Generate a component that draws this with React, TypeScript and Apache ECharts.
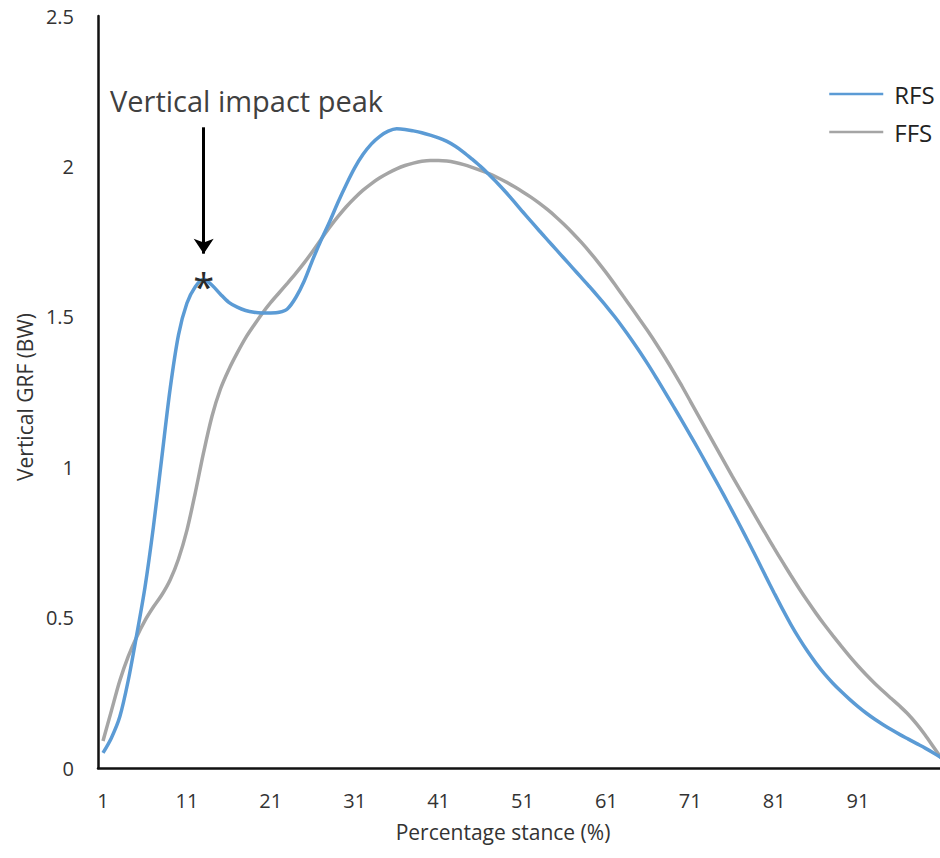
import React, { useEffect, useRef } from "react";
import * as echarts from "echarts";

const STANCE: number[] = Array.from({ length: 101 }, (_, i) => i + 1);
const X_TICKS = [1, 11, 21, 31, 41, 51, 61, 71, 81, 91];

const RFS = [
  0.05, 0.1, 0.17, 0.29, 0.44, 0.6, 0.8, 1.03, 1.26, 1.44,
  1.545, 1.6, 1.625, 1.605, 1.575, 1.548, 1.532, 1.521, 1.515, 1.513,
  1.513, 1.515, 1.527, 1.565, 1.62, 1.69, 1.755, 1.815, 1.88, 1.94,
  1.995, 2.04, 2.075, 2.1, 2.117, 2.125, 2.123, 2.118, 2.112, 2.104,
  2.095, 2.083, 2.067, 2.047, 2.024, 2.0, 1.973, 1.945, 1.915, 1.883,
  1.85, 1.818, 1.786, 1.755, 1.724, 1.693, 1.662, 1.631, 1.6, 1.568,
  1.535, 1.5, 1.463, 1.424, 1.383, 1.34, 1.295, 1.249, 1.202, 1.155,
  1.107, 1.058, 1.008, 0.958, 0.907, 0.855, 0.802, 0.748, 0.693, 0.637,
  0.582, 0.528, 0.477, 0.43, 0.387, 0.348, 0.313, 0.282, 0.254, 0.228,
  0.204, 0.182, 0.162, 0.144, 0.127, 0.111, 0.096, 0.081, 0.066, 0.05,
  0.033,
];

const FFS = [
  0.09, 0.19, 0.29, 0.37, 0.435, 0.49, 0.535, 0.575, 0.625, 0.695,
  0.79, 0.915, 1.05, 1.17, 1.26, 1.325, 1.38, 1.43, 1.472, 1.512,
  1.548, 1.58, 1.612, 1.645, 1.68, 1.718, 1.758, 1.797, 1.833, 1.866,
  1.895, 1.921, 1.943, 1.962, 1.978, 1.992, 2.003, 2.011, 2.017, 2.02,
  2.02, 2.018, 2.013, 2.006, 1.997, 1.987, 1.976, 1.963, 1.949, 1.933,
  1.916, 1.898, 1.878, 1.856, 1.832, 1.806, 1.778, 1.748, 1.716, 1.682,
  1.646, 1.608, 1.569, 1.53, 1.49, 1.45, 1.408, 1.364, 1.318, 1.27,
  1.22, 1.17, 1.12, 1.07, 1.02, 0.97, 0.922, 0.874, 0.826, 0.778,
  0.731, 0.685, 0.64, 0.596, 0.554, 0.514, 0.476, 0.44, 0.405, 0.371,
  0.339, 0.309, 0.281, 0.255, 0.23, 0.205, 0.178, 0.146, 0.11, 0.07,
  0.03,
];

const PEAK_X = 13;
const PEAK_Y = 1.625;

const FONT = "'Open Sans', 'Noto Sans', sans-serif";

export default function App() {
  const ref = useRef<HTMLDivElement>(null);

  useEffect(() => {
    document.body.style.margin = "0";
    if (!ref.current) return;
    const chart = echarts.init(ref.current, null, { renderer: "svg" });
    chart.setOption({
      animation: false,
      backgroundColor: "#ffffff",
      grid: { left: 98, right: 0, top: 16, bottom: 90, containLabel: false },
      legend: {
        orient: "vertical",
        left: 823,
        top: 77,
        itemWidth: 54,
        itemHeight: 14,
        itemGap: 14,
        lineStyle: { width: 2.5 },
        itemStyle: { opacity: 0 },
        data: ["RFS", "FFS"],
        textStyle: { fontSize: 24, fontFamily: FONT, color: "#222", padding: [0, 0, 0, 6] },
      },
      xAxis: {
        type: "value",
        min: 0.404,
        max: 100.77,
        splitLine: { show: false },
        axisTick: { show: false },
        axisLine: { show: true, lineStyle: { color: "#111", width: 2.5 } },
        axisLabel: {
          customValues: X_TICKS,
          fontSize: 20,
          fontFamily: FONT,
          color: "#333",
          margin: 22,
        },
      },
      yAxis: {
        type: "value",
        min: 0,
        max: 2.5,
        interval: 0.5,
        splitLine: { show: false },
        axisTick: { show: false },
        axisLine: { show: true, lineStyle: { color: "#111", width: 2.5 } },
        axisLabel: { fontSize: 20, fontFamily: FONT, color: "#333", margin: 24 },
      },
      series: [
        {
          name: "RFS",
          type: "line",
          data: STANCE.map((x, i) => [x, RFS[i]]),
          showSymbol: false,
          symbol: "none",
          smooth: 0.3,
          color: "#5B9BD5",
          lineStyle: { color: "#5B9BD5", width: 3.5 },
          itemStyle: { color: "#5B9BD5" },
          z: 3,
          markLine: {
            silent: true,
            symbol: ["none", "arrow"],
            symbolSize: [15, 15],
            label: { show: false },
            lineStyle: { color: "#000", width: 3, type: "solid" },
            data: [[{ coord: [PEAK_X, 2.13] }, { coord: [PEAK_X, 1.71] }]],
          },
          markPoint: {
            silent: true,
            symbol: "circle",
            symbolSize: 1,
            itemStyle: { color: "rgba(0,0,0,0)" },
            label: {
              show: true,
              formatter: "*",
              position: "inside",
              fontSize: 38,
              fontFamily: FONT,
              color: "#2a2a2a",
              offset: [0, 7],
            },
            data: [{ coord: [PEAK_X, PEAK_Y] }],
          },
        },
        {
          name: "FFS",
          type: "line",
          data: STANCE.map((x, i) => [x, FFS[i]]),
          showSymbol: false,
          symbol: "none",
          smooth: 0.3,
          color: "#A5A5A5",
          lineStyle: { color: "#A5A5A5", width: 3.5 },
          itemStyle: { color: "#A5A5A5" },
          z: 2,
        },
      ],
      graphic: [
        {
          type: "text",
          x: 110,
          y: 100,
          style: {
            text: "Vertical impact peak",
            fontSize: 29,
            fontFamily: FONT,
            fill: "#404040",
            align: "left",
            verticalAlign: "middle",
          },
        },
        {
          type: "text",
          x: 503,
          y: 832,
          style: {
            text: "Percentage stance (%)",
            fontSize: 21,
            fontFamily: FONT,
            fill: "#333",
            align: "center",
            verticalAlign: "middle",
          },
        },
        {
          type: "text",
          x: 25,
          y: 397,
          rotation: Math.PI / 2,
          style: {
            text: "Vertical GRF (BW)",
            fontSize: 21,
            fontFamily: FONT,
            fill: "#333",
            align: "center",
            verticalAlign: "middle",
          },
        },
      ],
    });
    return () => chart.dispose();
  }, []);

  return <div ref={ref} style={{ width: 940, height: 858 }} />;
}
